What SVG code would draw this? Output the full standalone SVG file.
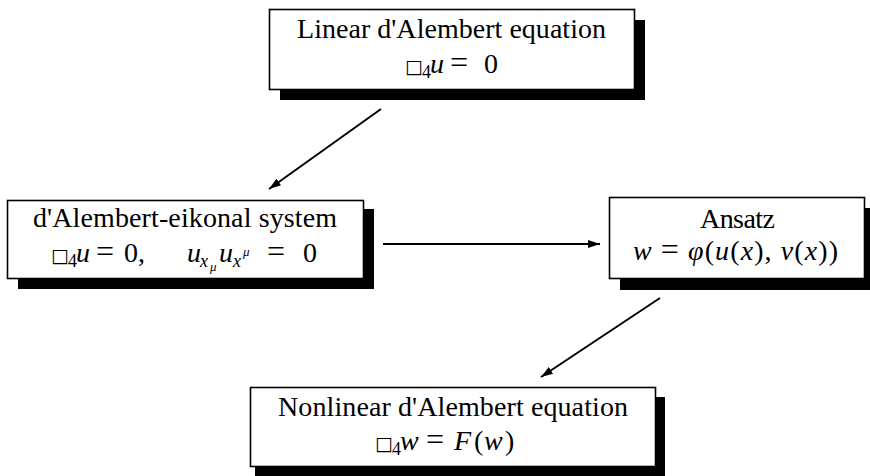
<svg xmlns="http://www.w3.org/2000/svg" width="870" height="476" viewBox="0 0 870 476">
<style>
.box{fill:#fff;stroke:#000;stroke-width:1.6}
.shadow{fill:#000}
.t{font-family:"Liberation Serif","Times New Roman",serif;font-size:28px;fill:#000}
.i{font-style:italic}
.sq{font-family:"DejaVu Sans",sans-serif;font-size:19px}
.eq{font-size:32px}
.sub{font-size:18px}
.ss{font-size:13px}
.conn{stroke:#000;stroke-width:2;fill:none}
</style>
<defs>
<marker id="ah" markerUnits="userSpaceOnUse" markerWidth="14" markerHeight="10" refX="12" refY="4" orient="auto">
<path d="M0,0 L12,4 L0,8 z" fill="#000"/>
</marker>
</defs>
<rect width="870" height="476" fill="#fff"/>
<g id="connectors">
<line class="conn" x1="381" y1="109" x2="269" y2="189" marker-end="url(#ah)"/>
<line class="conn" x1="383" y1="244" x2="600" y2="244" marker-end="url(#ah)"/>
<line class="conn" x1="660" y1="298" x2="541" y2="377" marker-end="url(#ah)"/>
</g>
<g id="node-linear">
<rect class="shadow" x="280" y="20" width="365" height="80"/>
<rect class="box" x="269.5" y="9.5" width="365" height="80"/>
<text class="t" x="451.5" y="38" text-anchor="middle" textLength="309" lengthAdjust="spacing">Linear d'Alembert equation</text>
<text class="t" y="73"><tspan class="sq" x="405">□</tspan><tspan class="sub" x="422" y="78">4</tspan><tspan class="i" x="430" y="73">u</tspan><tspan class="eq" x="450">=</tspan><tspan x="484">0</tspan></text>
</g>
<g id="node-eikonal">
<rect class="shadow" x="18" y="209" width="356" height="80"/>
<rect class="box" x="7.5" y="200.5" width="356" height="78"/>
<text class="t" x="185" y="227" text-anchor="middle" textLength="304" lengthAdjust="spacing">d'Alembert-eikonal system</text>
<text class="t" y="262"><tspan class="sq" x="51">□</tspan><tspan class="sub" x="68" y="267">4</tspan><tspan class="i" x="76" y="262">u</tspan><tspan class="eq" x="96">=</tspan><tspan x="124">0,</tspan></text>
<text class="t" y="262"><tspan class="i" x="187">u</tspan><tspan class="sub i" x="200" y="267">x</tspan><tspan class="ss i" x="210" y="271">μ</tspan><tspan class="i" x="219" y="262">u</tspan><tspan class="sub i" x="233" y="267">x</tspan><tspan class="ss i" x="243" y="256">μ</tspan><tspan class="eq" x="267" y="262">=</tspan><tspan x="303">0</tspan></text>
</g>
<g id="node-ansatz">
<rect class="shadow" x="620" y="208" width="256" height="82"/>
<rect class="box" x="609.5" y="197.5" width="255" height="81"/>
<text class="t" x="737.5" y="228" text-anchor="middle" textLength="75" lengthAdjust="spacing">Ansatz</text>
<text class="t" x="735.5" y="260" text-anchor="middle" textLength="205" lengthAdjust="spacing"><tspan class="i">w</tspan> <tspan class="eq">=</tspan> <tspan class="i">φ</tspan>(<tspan class="i">u</tspan>(<tspan class="i">x</tspan>), <tspan class="i">v</tspan>(<tspan class="i">x</tspan>))</text>
</g>
<g id="node-nonlinear">
<rect class="shadow" x="255" y="397" width="410" height="80"/>
<rect class="box" x="250.5" y="387.5" width="405" height="79"/>
<text class="t" x="453" y="416" text-anchor="middle" textLength="350" lengthAdjust="spacing">Nonlinear d'Alembert equation</text>
<text class="t" y="450"><tspan class="sq" x="375">□</tspan><tspan class="sub" x="392" y="455">4</tspan><tspan class="i" x="400" y="450">w</tspan><tspan class="eq" x="426">=</tspan><tspan class="i" x="454">F</tspan><tspan x="474">(</tspan><tspan class="i" x="484">w</tspan><tspan x="505">)</tspan></text>
</g>
</svg>
